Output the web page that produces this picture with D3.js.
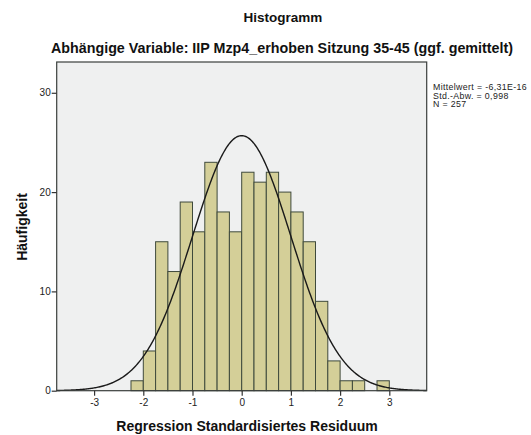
<!DOCTYPE html>
<html>
<head>
<meta charset="utf-8">
<script src="https://cdn.jsdelivr.net/npm/d3@7"></script>
<style>
  html, body { margin: 0; padding: 0; background: #ffffff; }
  svg { display: block; font-family: "Liberation Sans", Arial, sans-serif; }
</style>
</head>
<body>
<svg id="chart" width="531" height="435"></svg>
<script>
// Histogram of standardized regression residuals (bin width 0.25)
const binLower = [-2.25, -2.0, -1.75, -1.5, -1.25, -1.0, -0.75, -0.5, -0.25,
                  0.0, 0.25, 0.5, 0.75, 1.0, 1.25, 1.5, 1.75, 2.0, 2.25, 2.5, 2.75];
const counts   = [1, 4, 15, 12, 19, 16, 23, 18, 16,
                  22, 21, 22, 20, 18, 15, 9, 3, 1, 1, 0, 1];
const binWidth = 0.25;
const xTicks = [-3, -2, -1, 0, 1, 2, 3];
const yTicks = [0, 10, 20, 30];
const statLines = ["Mittelwert = -6,31E-16", "Std.-Abw. = 0,998", "N = 257"];
const meanVal = -6.31e-16, sdVal = 0.998, nVal = 257;

const svg = d3.select("#chart");
const plotL = 56.7, plotR = 426.7, plotT = 62, plotB = 390.7;

const x = d3.scaleLinear().domain([-3.76, 3.76]).range([plotL, plotR]);
const y = d3.scaleLinear().domain([0, 33.1]).range([plotB, plotT]);

// plot background
svg.append("rect")
  .attr("x", plotL).attr("y", plotT)
  .attr("width", plotR - plotL).attr("height", plotB - plotT)
  .attr("fill", "#eff0f0");

// bars
svg.append("g").selectAll("rect")
  .data(binLower.map((b, i) => ({ b, c: counts[i] })).filter(d => d.c > 0))
  .join("rect")
  .attr("x", d => x(d.b))
  .attr("y", d => y(d.c))
  .attr("width", d => x(d.b + binWidth) - x(d.b))
  .attr("height", d => y(0) - y(d.c))
  .attr("fill", "#d4cf98")
  .attr("stroke", "#3f4a3c")
  .attr("stroke-width", 1);

// fitted normal curve
const pdf = v => Math.exp(-0.5 * ((v - meanVal) / sdVal) ** 2) / (sdVal * Math.sqrt(2 * Math.PI));
const curvePts = d3.range(-3.76, 3.7601, 0.02).map(v => [v, nVal * binWidth * pdf(v)]);
svg.append("path")
  .datum(curvePts)
  .attr("fill", "none")
  .attr("stroke", "#1a1a1a")
  .attr("stroke-width", 1.4)
  .attr("d", d3.line().x(d => x(d[0])).y(d => y(d[1])));

// frame
svg.append("rect")
  .attr("x", plotL).attr("y", plotT)
  .attr("width", plotR - plotL).attr("height", plotB - plotT)
  .attr("fill", "none")
  .attr("stroke", "#3a3f3c")
  .attr("stroke-width", 1.2);

// axes
const yAxis = svg.append("g")
  .attr("transform", `translate(${plotL},0)`)
  .call(d3.axisLeft(y).tickValues(yTicks).tickSize(5).tickPadding(1));
const xAxis = svg.append("g")
  .attr("transform", `translate(0,${plotB})`)
  .call(d3.axisBottom(x).tickValues(xTicks).tickSize(5).tickPadding(3)
        .tickFormat(d3.format("d")));
[yAxis, xAxis].forEach(g => {
  g.select(".domain").remove();
  g.selectAll(".tick line").attr("stroke", "#333").attr("stroke-width", 1.2);
  g.selectAll(".tick text").attr("fill", "#222").style("font-size", "10px")
    .style("font-family", "'Liberation Sans', Arial, sans-serif");
});
xAxis.selectAll(".tick text").text(d => d < 0 ? "-" + Math.abs(d) : d);

// titles
svg.append("text")
  .attr("x", 283).attr("y", 22)
  .attr("text-anchor", "middle")
  .style("font-size", "13.5px").style("font-weight", "bold")
  .attr("fill", "#111")
  .text("Histogramm");
svg.append("text")
  .attr("x", 282).attr("y", 53)
  .attr("text-anchor", "middle")
  .style("font-size", "14.3px").style("font-weight", "bold")
  .attr("fill", "#111")
  .text("Abhängige Variable: IIP Mzp4_erhoben Sitzung 35-45 (ggf. gemittelt)");

svg.append("text")
  .attr("x", 247).attr("y", 431)
  .attr("text-anchor", "middle")
  .style("font-size", "14px").style("font-weight", "bold")
  .attr("fill", "#111")
  .text("Regression Standardisiertes Residuum");

svg.append("text")
  .attr("transform", "translate(27,227) rotate(-90)")
  .attr("text-anchor", "middle")
  .style("font-size", "14px").style("font-weight", "bold")
  .attr("fill", "#111")
  .text("Häufigkeit");

// summary statistics
svg.append("g").selectAll("text")
  .data(statLines)
  .join("text")
  .attr("x", 433)
  .attr("y", (d, i) => 90 + i * 8.6)
  .style("font-size", "8.8px")
  .style("letter-spacing", "0.35px")
  .attr("fill", "#222")
  .text(d => d);
</script>
</body>
</html>
